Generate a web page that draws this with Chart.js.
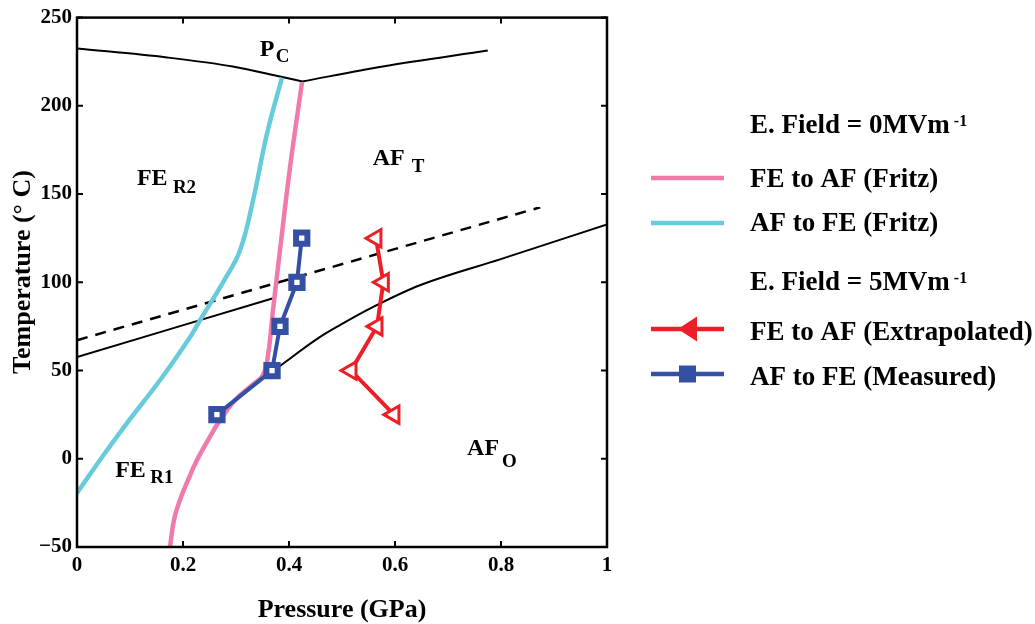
<!DOCTYPE html>
<html><head><meta charset="utf-8">
<script src="https://cdn.jsdelivr.net/npm/chart.js@4/dist/chart.umd.min.js"></script>
<style>html,body{margin:0;padding:0;background:#fff}</style>
</head><body>
<canvas id="c" width="1035" height="624"></canvas>
<script>
// ---- tick values / labels ----
const xTicks = [0, 0.2, 0.4, 0.6, 0.8, 1];
const xTickLabels = ['0', '0.2', '0.4', '0.6', '0.8', '1'];
const yTicks = [-50, 0, 50, 100, 150, 200, 250];
const yTickLabels = ['\u221250', '0', '50', '100', '150', '200', '250'];

// ---- phase boundaries (pressure GPa, temperature °C) ----
const pcLeftP  = [0, 0.17, 0.294, 0.383, 0.425];
const pcLeftT  = [232.5, 227.4, 222.3, 216.6, 213.8];
const pcRightP = [0.425, 0.577, 0.775];
const pcRightT = [213.8, 222.3, 231.3];
const r1r2P = [0, 0.370];
const r1r2T = [57.6, 91];
const dashP = [0, 0.874];
const dashT = [67.2, 142.5];
const afToP = [0.377, 0.458, 0.496, 0.558, 0.647, 0.798, 1.0];
const afToT = [51.3, 68.9, 75.7, 85.9, 98.3, 113.0, 132.8];

// ---- Fritz curves (E = 0) ----
const feAfFritzP = [0.1755, 0.1830, 0.1943, 0.2094, 0.2264, 0.2472, 0.2698, 0.2981, 0.3302, 0.3509, 0.3604, 0.3698, 0.3830, 0.4019, 0.4245];
const feAfFritzT = [-50, -34.7, -23.4, -12.1, -0.7, 10.6, 21.9, 33.2, 41.7, 47.4, 58.7, 84.2, 118.1, 165.1, 213.2];
const afFeFritzP = [0, 0.0208, 0.0434, 0.0943, 0.1566, 0.2132, 0.2321, 0.2755, 0.3075, 0.3321, 0.3585, 0.3868];
const afFeFritzT = [-19.4, -10.4, -0.7, 20.2, 44.5, 68.9, 78.5, 100.0, 118.0, 146.4, 184.3, 216.0];

// ---- E = 5 MV/m ----
const feAfExtrapP = [0.564, 0.578, 0.566, 0.517, 0.598];
const feAfExtrapT = [125, 100, 75, 50, 25];
const afFeMeasP = [0.264, 0.368, 0.383, 0.415, 0.424];
const afFeMeasT = [25, 50, 75, 100, 125];

const PINK = 'rgb(241,122,172)', CYAN = 'rgb(104,203,220)', RED = 'rgb(236,30,38)', BLUE = 'rgb(52,80,164)';
const SERIF = '"Liberation Serif", "Times New Roman", serif';

const pts = (xs, ys) => xs.map((v, i) => ({x: v, y: ys[i]}));
const blackLine = (xs, ys, extra) => Object.assign({
  data: pts(xs, ys), showLine: true, pointRadius: 0, borderColor: '#000', borderWidth: 2,
  cubicInterpolationMode: 'monotone', fill: false
}, extra || {});

const datasets = [
  {label: 'AF to FE (Measured)', data: pts(afFeMeasP, afFeMeasT), showLine: true, tension: 0,
   borderColor: BLUE, borderWidth: 4, pointStyle: 'rect', pointRadius: 8, pointBorderWidth: 6,
   pointBorderColor: BLUE, pointBackgroundColor: '#fff'},
  {label: 'FE to AF (Extrapolated)', data: pts(feAfExtrapP, feAfExtrapT), showLine: true, tension: 0,
   borderColor: RED, borderWidth: 4, pointStyle: 'triangle', pointRotation: -90, pointRadius: 10,
   pointBorderWidth: 3, pointBorderColor: RED, pointBackgroundColor: '#fff'},
  {label: 'FE to AF (Fritz)', data: pts(feAfFritzP, feAfFritzT), showLine: true, pointRadius: 0,
   borderColor: PINK, borderWidth: 4.5, tension: 0.4},
  {label: 'AF to FE (Fritz)', data: pts(afFeFritzP, afFeFritzT), showLine: true, pointRadius: 0,
   borderColor: CYAN, borderWidth: 4.5, tension: 0.4},
  blackLine(pcLeftP, pcLeftT),
  blackLine(pcRightP, pcRightT),
  blackLine(r1r2P, r1r2T),
  blackLine(dashP, dashT, {borderDash: [11, 8], borderWidth: 2.5}),
  blackLine(afToP, afToT)
];

const regionLabels = [
  {main: 'P', sub: 'C', p: 0.345, t: 228.5, subDx: 16, subDy: 6},
  {main: 'FE', sub: 'R2', p: 0.113, t: 154.9, subDx: 36, subDy: 8},
  {main: 'AF', sub: 'T', p: 0.558, t: 166.2, subDx: 39, subDy: 7},
  {main: 'FE', sub: 'R1', p: 0.072, t: -10.3, subDx: 35, subDy: 6},
  {main: 'AF', sub: 'O', p: 0.736, t: 2.1, subDx: 35, subDy: 12}
];

const legendRows = [
  {type: 'head', text: 'E. Field = 0MVm', sup: '-1', y: 133},
  {type: 'line', color: PINK, text: 'FE to AF (Fritz)', y: 187, ly: 178},
  {type: 'line', color: CYAN, text: 'AF to FE (Fritz)', y: 231, ly: 223},
  {type: 'head', text: 'E. Field = 5MVm', sup: '-1', y: 290},
  {type: 'tri', color: RED, text: 'FE to AF (Extrapolated)', y: 340, ly: 329},
  {type: 'sq', color: BLUE, text: 'AF to FE (Measured)', y: 385, ly: 374}
];

const decor = {
  id: 'decor',
  afterDraw(chart) {
    const {ctx, chartArea: {left, top, right, bottom}, scales: {x, y}} = chart;
    ctx.save();
    // frame
    ctx.strokeStyle = '#000';
    ctx.lineWidth = 2.5;
    ctx.strokeRect(left, top, right - left, bottom - top);
    // inward ticks
    ctx.lineWidth = 2;
    const tl = 6;
    ctx.beginPath();
    xTicks.forEach(v => {
      const px = x.getPixelForValue(v);
      ctx.moveTo(px, bottom); ctx.lineTo(px, bottom - tl);
      ctx.moveTo(px, top); ctx.lineTo(px, top + tl);
    });
    yTicks.forEach(v => {
      const py = y.getPixelForValue(v);
      ctx.moveTo(left, py); ctx.lineTo(left + tl, py);
      ctx.moveTo(right, py); ctx.lineTo(right - tl, py);
    });
    ctx.stroke();

    // region labels
    ctx.fillStyle = '#000';
    ctx.textBaseline = 'alphabetic';
    ctx.textAlign = 'left';
    regionLabels.forEach(l => {
      const px = x.getPixelForValue(l.p), py = y.getPixelForValue(l.t);
      ctx.font = 'bold 24px ' + SERIF;
      ctx.fillText(l.main, px, py);
      ctx.font = 'bold 19px ' + SERIF;
      ctx.fillText(l.sub, px + l.subDx, py + l.subDy);
    });

    // axis titles
    ctx.font = 'bold 26px ' + SERIF;
    ctx.textAlign = 'center';
    ctx.fillText('Pressure (GPa)', (left + right) / 2, 617);
    ctx.save();
    ctx.translate(30, 272);
    ctx.rotate(-Math.PI / 2);
    ctx.fillText('Temperature (\u00B0 C)', 0, 0);
    ctx.restore();

    // legend
    ctx.textAlign = 'left';
    const tx = 750, l0 = 651, l1 = 724;
    legendRows.forEach(r => {
      ctx.font = 'bold 27px ' + SERIF;
      ctx.fillStyle = '#000';
      ctx.fillText(r.text, tx, r.y);
      if (r.type === 'head') {
        const w = ctx.measureText(r.text).width;
        ctx.font = 'bold 16px ' + SERIF;
        ctx.fillText(r.sup, tx + w + 4, r.y - 7);
        return;
      }
      ctx.strokeStyle = r.color;
      ctx.lineWidth = 4.5;
      ctx.beginPath(); ctx.moveTo(l0, r.ly); ctx.lineTo(l1, r.ly); ctx.stroke();
      ctx.fillStyle = r.color;
      if (r.type === 'tri') {
        ctx.beginPath();
        ctx.moveTo(678, r.ly); ctx.lineTo(697, r.ly - 12.5); ctx.lineTo(697, r.ly + 12.5); ctx.closePath();
        ctx.fill();
      } else if (r.type === 'sq') {
        ctx.fillRect(679, r.ly - 8.5, 17, 17);
      }
    });
    ctx.restore();
  }
};

new Chart(document.getElementById('c'), {
  type: 'scatter',
  data: {datasets},
  options: {
    responsive: false,
    animation: false,
    events: [],
    layout: {padding: {left: 0, top: 17, right: 428, bottom: 0}},
    plugins: {legend: {display: false}, tooltip: {enabled: false}},
    elements: {line: {fill: false}},
    scales: {
      x: {
        type: 'linear', min: 0, max: 1,
        afterBuildTicks: s => { s.ticks = xTicks.map(v => ({value: v})); },
        afterFit: s => { s.height = 77; },
        grid: {display: false, drawTicks: false},
        border: {display: false},
        ticks: {padding: 6, color: '#000', font: {family: SERIF, size: 21, weight: 'bold'},
                autoSkip: false, maxRotation: 0,
                callback: (v, i) => xTickLabels[i]}
      },
      y: {
        type: 'linear', min: -50, max: 250,
        afterBuildTicks: s => { s.ticks = yTicks.map(v => ({value: v})); },
        afterFit: s => { s.width = 77; },
        grid: {display: false, drawTicks: false},
        border: {display: false},
        ticks: {padding: 5, color: '#000', font: {family: SERIF, size: 21, weight: 'bold'},
                autoSkip: false,
                callback: (v, i) => yTickLabels[i]}
      }
    }
  },
  plugins: [decor]
});
</script>
</body></html>
